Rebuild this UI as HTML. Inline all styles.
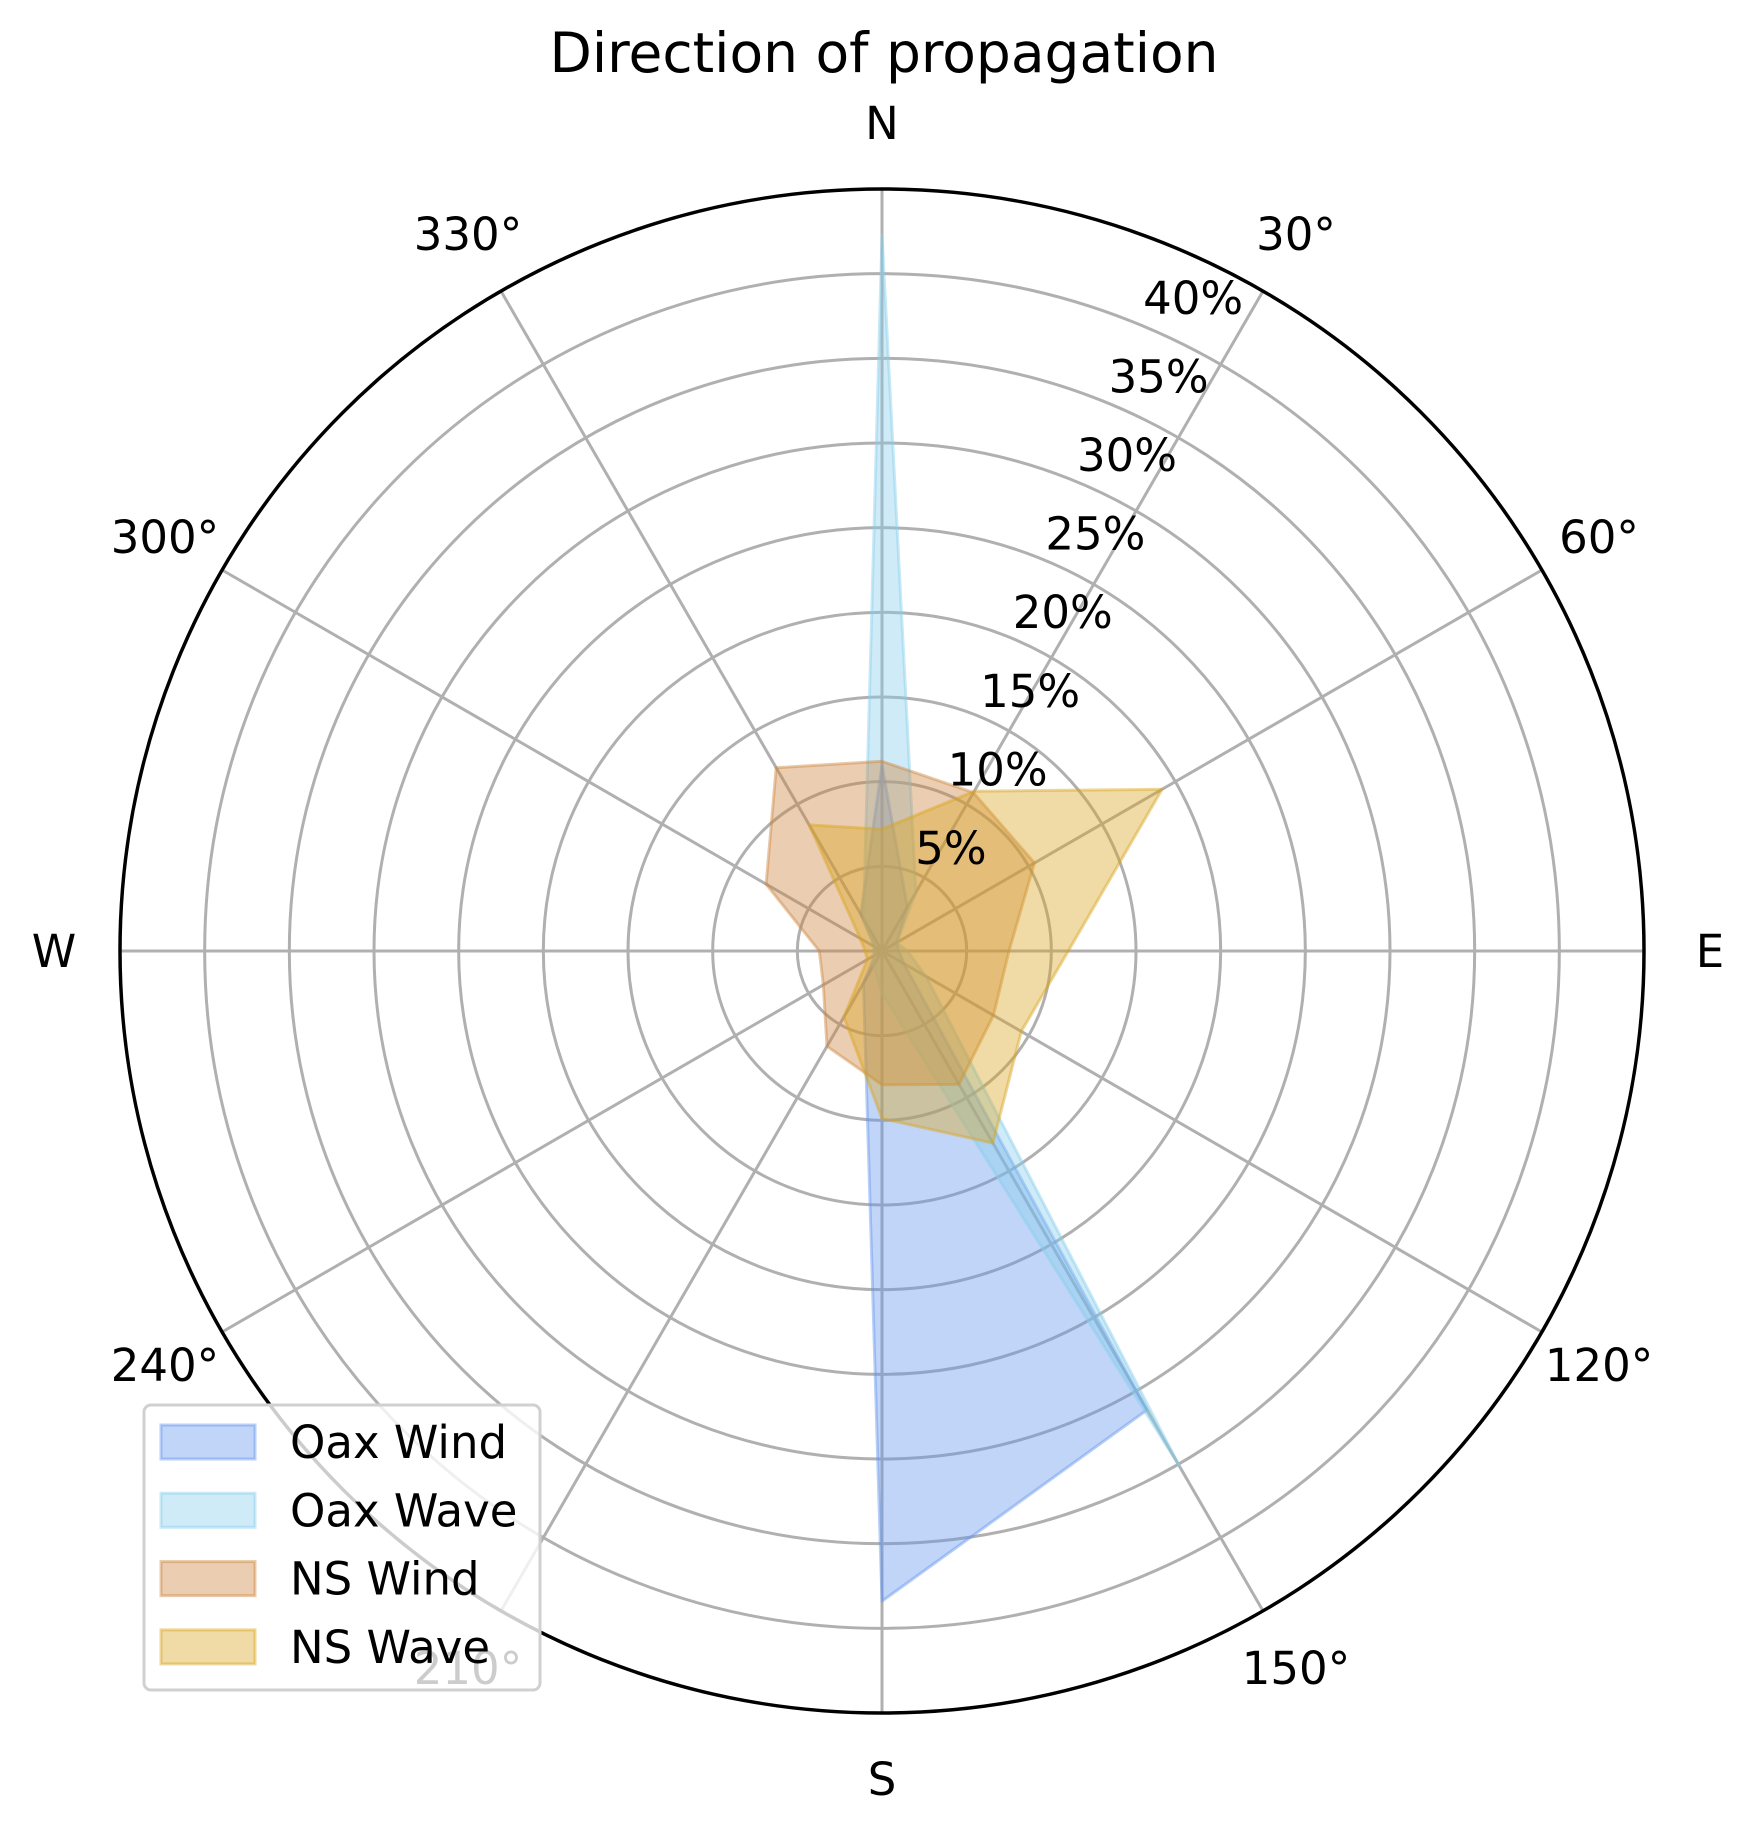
<!DOCTYPE html>
<html><head><meta charset="utf-8"><style>
html,body{margin:0;padding:0;background:#fff;}
svg{display:block;font-family:"DejaVu Sans","Liberation Sans",sans-serif;}
</style></head><body>
<svg id="chart" width="1756" height="1833" viewBox="0 0 1756 1833" xmlns="http://www.w3.org/2000/svg">
<rect width="1756" height="1833" fill="#fff"/>
<text x="884" y="72" font-size="55" text-anchor="middle">Direction of propagation</text>
<g id="grid"></g>
<g id="series"></g>
<g id="labels"></g>
<g id="legend"></g>
</svg>
<script>
const directions = [0, 30, 60, 90, 120, 150, 180, 210, 240, 270, 300, 330];
const oaxWind = [11, 3, 1, 1, 1.5, 31.3, 38.4, 2.2, 0.5, 0.5, 0.5, 2.5];
const oaxWave = [42.3, 4, 1, 1.5, 3, 35.2, 2.5, 1, 0.5, 0.5, 0.5, 2.2];
const nsWind = [11.2, 10.8, 10.4, 7.5, 7.6, 9.1, 7.9, 6.5, 4.0, 3.7, 7.9, 12.5];
const nsWave = [7.2, 10.9, 19.1, 11.0, 9.5, 13.1, 9.9, 4.5, 1.0, 1.0, 1.5, 8.6];
const seriesNames = ["Oax Wind", "Oax Wave", "NS Wind", "NS Wave"];
const radialTicks = [5, 10, 15, 20, 25, 30, 35, 40];
const angleTicks = [0, 30, 60, 90, 120, 150, 180, 210, 240, 270, 300, 330];
const angleLabels = ["N", "30°", "60°", "E", "120°", "150°", "S", "210°", "240°", "W", "300°", "330°"];
const rMax = 45;

const NS = "http://www.w3.org/2000/svg";
const cx = 882, cy = 951, R = 762;
const colors = ["#6495ED", "#87CEEB", "#CD853F", "#DAA520"];
const allSeries = [oaxWind, oaxWave, nsWind, nsWave];
const labelDx = [0, 12, 10, 8, 6, 3, 0, 0];
function rScale(v) { return v / rMax * R; }
function pt(angDeg, v) {
  const a = angDeg * Math.PI / 180, r = rScale(v);
  return [cx + r * Math.sin(a), cy - r * Math.cos(a)];
}
function mk(tag, attrs, parent) {
  const e = document.createElementNS(NS, tag);
  for (const k in attrs) e.setAttribute(k, attrs[k]);
  parent.appendChild(e);
  return e;
}
const grid = document.getElementById('grid');
radialTicks.forEach(t => {
  const c = mk('circle', {cx: cx, cy: cy, r: rScale(t), fill: 'none', stroke: '#b0b0b0', 'stroke-width': 3}, grid);
  
  
});
angleTicks.forEach(a => {
  const p = pt(a, rMax);
  const l = mk('line', {x1: cx, y1: cy, x2: p[0], y2: p[1], stroke: '#b0b0b0', 'stroke-width': 3}, grid);
  
  
});

const sg = document.getElementById('series');
allSeries.forEach((vals, i) => {
  const pts = vals.map((v, j) => pt(directions[j], v).map(n => n.toFixed(1)).join(',')).join(' ');
  const pg = mk('polygon', {points: pts, fill: colors[i], 'fill-opacity': 0.4, stroke: colors[i], 'stroke-opacity': 0.45, 'stroke-width': 3, 'stroke-linejoin': 'round'}, sg);
  
  
});
const spine = mk('circle', {cx: cx, cy: cy, r: R, fill: 'none', stroke: '#000', 'stroke-width': 3.5}, sg);



const lg = document.getElementById('labels');
radialTicks.forEach((t, i) => {
  const x = 951 + (t - 5) / 5 * 34.6 + labelDx[i], y = 851 - (t - 5) / 5 * 78.6 + 13;
  const tx = mk('text', {x: x, y: y, 'font-size': 45, 'text-anchor': 'middle'}, lg);
  tx.textContent = t + '%';
  
  
});
angleTicks.forEach((a, i) => {
  const ar = a * Math.PI / 180, lr = 828;
  const x = cx + lr * Math.sin(ar), y = cy - lr * Math.cos(ar) + 16;
  const tx = mk('text', {x: x, y: y, 'font-size': 45, 'text-anchor': 'middle'}, lg);
  tx.textContent = angleLabels[i];
  
  
});

const leg = document.getElementById('legend');
const frame = mk('rect', {x: 144, y: 1405, width: 396, height: 285, rx: 7, fill: '#fff', 'fill-opacity': 0.8, stroke: '#d0d0d0', 'stroke-width': 3}, leg);


seriesNames.forEach((n, i) => {
  const yc = 1442 + i * 68.3;
  const slug = n.toLowerCase().replace(' ', '-');
  const r = mk('rect', {x: 161, y: yc - 17, width: 94, height: 34, fill: colors[i], 'fill-opacity': 0.4, stroke: colors[i], 'stroke-opacity': 0.45, 'stroke-width': 3}, leg);
  
  
  const t = mk('text', {x: 290, y: yc + 16, 'font-size': 45}, leg);
  t.textContent = n;
  
  
});
</script>
</body></html>
